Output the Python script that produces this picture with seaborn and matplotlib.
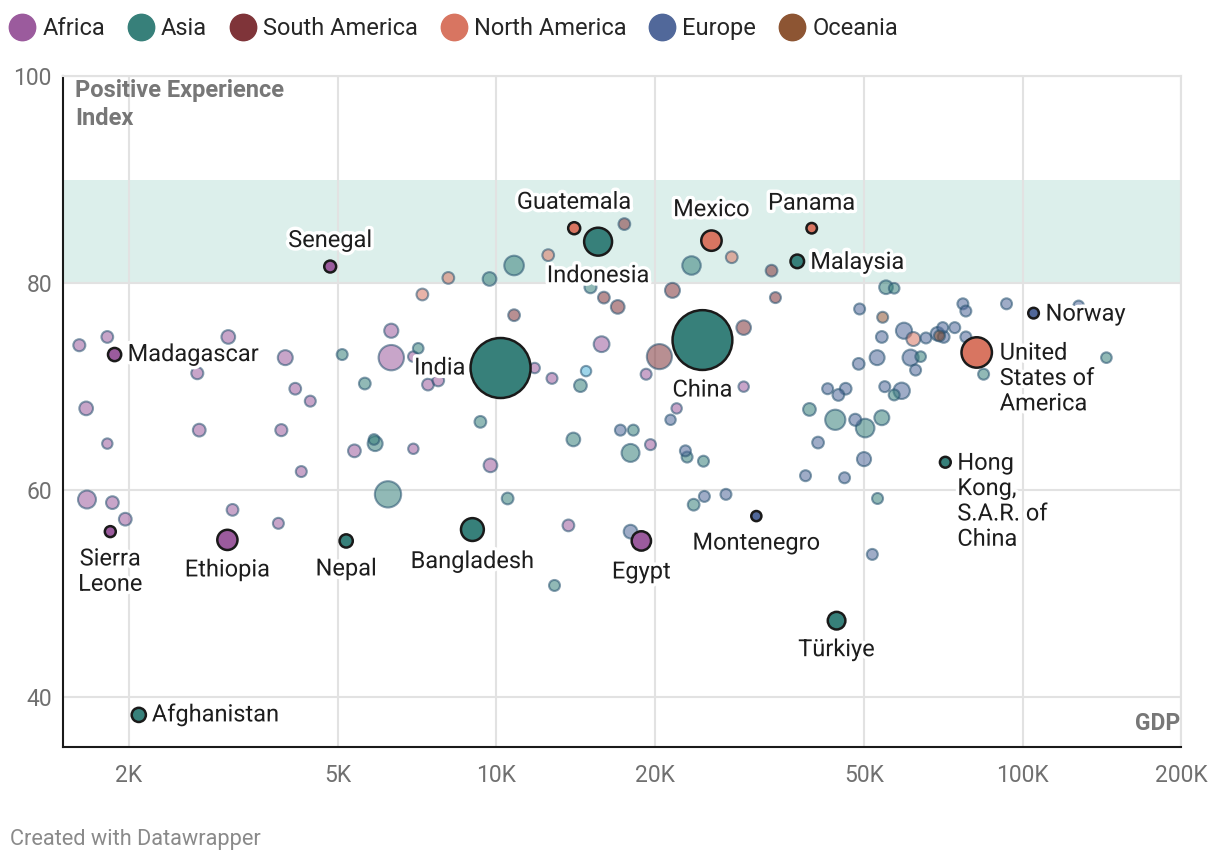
import pandas as pd
import seaborn as sns
import matplotlib.pyplot as plt
import matplotlib.patheffects as pe
from matplotlib.lines import Line2D
from matplotlib.ticker import NullLocator

# ------------------------------- colores -------------------------------- #
REGIONES = ["Africa", "Asia", "South America", "North America", "Europe", "Oceania"]
COLORES = {
    "Africa": "#9b5b9d",
    "Asia": "#37807a",
    "South America": "#7f3439",
    "North America": "#d87561",
    "Europe": "#51689a",
    "Oceania": "#8d5533",
    "Other": "#4fb3d9",
}

# --------------------------- paises destacados --------------------------- #
dest_nombre = ["Afghanistan", "Sierra\nLeone", "Madagascar", "Ethiopia", "Senegal", "Nepal",
               "Bangladesh", "India", "Guatemala", "Indonesia", "Egypt", "China", "Mexico",
               "Panama", "Malaysia", "Montenegro", "Türkiye", "Hong\nKong,\nS.A.R. of\nChina",
               "Norway", "United\nStates of\nAmerica"]
dest_region = ["Asia", "Africa", "Africa", "Africa", "Africa", "Asia", "Asia", "Asia",
               "North America", "Asia", "Africa", "Asia", "North America", "North America",
               "Asia", "Europe", "Asia", "Asia", "Europe", "North America"]
dest_gdp = [2090, 1845, 1880, 3080, 4830, 5180, 9000, 10180, 14050, 15600, 18850, 24630,
            25620, 39730, 37300, 31180, 44300, 71300, 104900, 81800]
dest_pei = [38.3, 56.0, 73.1, 55.2, 81.6, 55.1, 56.2, 71.8, 85.3, 84.0, 55.1, 74.5, 84.1,
            85.3, 82.1, 57.5, 47.4, 62.7, 77.1, 73.3]
dest_pop = [41, 8, 30, 125, 17, 30, 171, 1420, 18, 276, 111, 1410, 128, 4, 34, 1, 85, 7, 5, 335]

# posicion de cada etiqueta respecto del punto (dx, dy en pixeles, alineacion)
dest_offset = [(13, 0, "left"), (0, -40, "center"), (13, 0, "left"), (0, -30, "center"),
               (0, 26, "center"), (0, -28, "center"), (0, -32, "center"), (-35, 0, "right"),
               (0, 26, "center"), (0, -34, "center"), (0, -31, "center"), (0, -50, "center"),
               (0, 31, "center"), (0, 25, "center"), (13, -1, "left"), (0, -27, "center"),
               (0, -29, "center"), (12, -39, "left"), (12, -1, "left"), (23, -26, "left")]

# ----------------------------- resto de paises ---------------------------- #
africa_gdp = [1611, 1821, 3092, 2700, 3968, 6310, 6310, 6950, 7410, 7750, 4145, 4427, 1660,
              2723, 3900, 1821, 5370, 6950, 4256, 1666, 1862, 3150, 1970, 3850, 15840, 11820,
              12750, 19250, 29500, 22000, 19620, 9740, 13700]
africa_pei = [74.0, 74.8, 74.8, 71.3, 72.8, 75.4, 72.8, 72.9, 70.2, 70.6, 69.8, 68.6, 67.9,
              65.8, 65.8, 64.5, 63.8, 64.0, 61.8, 59.1, 58.8, 58.1, 57.2, 56.8, 74.1, 71.8,
              70.8, 71.2, 70.0, 67.9, 64.4, 62.4, 56.6]
africa_pop = [18, 15, 35, 18, 50, 40, 220, 5, 15, 15, 15, 8, 35, 25, 18, 3, 25, 3, 8, 90, 25,
              15, 25, 8, 60, 3, 8, 8, 3, 3, 8, 35, 15]

asia_gdp = [7100, 5090, 5620, 5880, 5850, 6220, 10800, 9700, 15090, 23480, 14440, 9320, 14000,
            18200, 17980, 23030, 24740, 10500, 23700, 12890, 39340, 44050, 50200, 54000, 53000,
            55000, 57000, 57000, 64000, 84300, 144300]
asia_pei = [73.7, 73.1, 70.3, 64.5, 64.9, 59.6, 81.7, 80.4, 79.6, 81.7, 70.1, 66.6, 64.9, 65.8,
            63.6, 63.2, 62.8, 59.2, 58.6, 50.8, 67.8, 66.8, 66.0, 67.0, 59.2, 79.6, 79.5, 69.2,
            72.9, 71.2, 72.8]
asia_pop = [5, 8, 15, 50, 5, 240, 115, 35, 18, 98, 25, 15, 35, 8, 90, 8, 8, 15, 15, 8, 25, 125,
            100, 50, 8, 35, 5, 8, 5, 8, 5]

europe_gdp = [21420, 17200, 22860, 24840, 27300, 17980, 40850, 48070, 49950, 38670, 45870,
              51800, 49000, 59500, 54000, 52900, 61250, 62600, 48800, 42600, 46100, 44650,
              54700, 58900, 77000, 78000, 93200, 65500, 68900, 70500, 70800, 74300, 78000,
              127800]
europe_pei = [66.8, 65.8, 63.8, 59.4, 59.6, 56.0, 64.6, 66.8, 63.0, 61.4, 61.2, 53.8, 77.5,
              75.4, 74.8, 72.8, 72.8, 71.6, 72.2, 69.8, 69.8, 69.2, 70.0, 69.6, 78.0, 77.3,
              78.0, 74.7, 75.1, 75.7, 74.8, 75.7, 74.8, 77.8]
europe_pop = [3, 8, 8, 8, 8, 35, 15, 18, 40, 8, 8, 8, 8, 65, 15, 50, 65, 8, 15, 8, 15, 15, 8,
              68, 8, 8, 8, 8, 35, 8, 15, 8, 8, 5]

namerica_gdp = [7230, 8100, 12540, 28000, 62000]
namerica_pei = [78.9, 80.5, 82.7, 82.5, 74.6]
namerica_pop = [15, 15, 15, 15, 38]

samerica_gdp = [17500, 33330, 16000, 17000, 10800, 21600, 33900, 29500, 20400]
samerica_pei = [85.7, 81.2, 78.6, 77.7, 76.9, 79.3, 78.6, 75.7, 72.9]
samerica_pop = [15, 15, 15, 35, 15, 50, 8, 45, 215]

oceania_gdp = [54200, 69500]
oceania_pei = [76.7, 74.9]
oceania_pop = [8, 8]

otros_gdp = [14800]
otros_pei = [71.5]
otros_pop = [3]

# ------------------------------ dataframes ------------------------------ #
partes = []
for region, g, p, n in [("Africa", africa_gdp, africa_pei, africa_pop),
                        ("Asia", asia_gdp, asia_pei, asia_pop),
                        ("Europe", europe_gdp, europe_pei, europe_pop),
                        ("North America", namerica_gdp, namerica_pei, namerica_pop),
                        ("South America", samerica_gdp, samerica_pei, samerica_pop),
                        ("Oceania", oceania_gdp, oceania_pei, oceania_pop),
                        ("Other", otros_gdp, otros_pei, otros_pop)]:
    partes.append(pd.DataFrame({"region": region, "gdp": g, "pei": p, "pop": n}))
df_fondo = pd.concat(partes).sort_values("pop", ascending=False)

df_dest = pd.DataFrame({"nombre": dest_nombre, "region": dest_region, "gdp": dest_gdp,
                        "pei": dest_pei, "pop": dest_pop})
df_dest_orden = df_dest.sort_values("pop", ascending=False)

# -------------------------------- grafico -------------------------------- #
sns.set_theme(style="white")
plt.rcParams["font.family"] = ["Roboto", "DejaVu Sans"]

fig = plt.figure(figsize=(12.2, 8.66), dpi=100)
ax = fig.add_axes([63 / 1220, 1 - 747 / 866, (1181 - 63) / 1220, (747 - 76) / 866])

ax.axhspan(80, 90, color="#dcefeb", lw=0, zorder=0)

TAMANIOS = (52, 1866)
NORMA = (0, 1420)
sns.scatterplot(data=df_fondo, x="gdp", y="pei", hue="region", size="pop", sizes=TAMANIOS,
                size_norm=NORMA, palette=COLORES, alpha=0.55, edgecolor="#24506e",
                linewidth=1.5, legend=False, ax=ax, zorder=3)
sns.scatterplot(data=df_dest_orden, x="gdp", y="pei", hue="region", size="pop", sizes=TAMANIOS,
                size_norm=NORMA, palette=COLORES, alpha=1, edgecolor="#1a1a1a",
                linewidth=1.8, legend=False, ax=ax, zorder=4)

ax.set_xscale("log")
ax.set_xlim(1500, 200000)
ax.set_ylim(35.2, 100)
ax.set_xticks([2000, 5000, 10000, 20000, 50000, 100000, 200000])
ax.set_xticklabels(["2K", "5K", "10K", "20K", "50K", "100K", "200K"])
ax.xaxis.set_minor_locator(NullLocator())
ax.set_yticks([40, 60, 80, 100])
ax.set_xlabel("")
ax.set_ylabel("")

ax.set_axisbelow(True)
ax.grid(True, color="#e2e2e2", lw=1.5)
for lado in ["top", "right"]:
    ax.spines[lado].set_color("#e2e2e2")
    ax.spines[lado].set_linewidth(1.5)
for lado in ["left", "bottom"]:
    ax.spines[lado].set_color("#1a1a1a")
    ax.spines[lado].set_linewidth(1.5)
ax.tick_params(axis="both", length=0, labelsize=16.5, labelcolor="#707070")
ax.tick_params(axis="y", pad=8)
ax.tick_params(axis="x", pad=12)

# etiquetas de paises
halo = [pe.withStroke(linewidth=5, foreground="white")]
for i, fila in df_dest.iterrows():
    dx, dy, ha = dest_offset[i]
    ax.annotate(fila["nombre"], (fila["gdp"], fila["pei"]), xytext=(dx, dy),
                textcoords="offset pixels", ha=ha, va="center", fontsize=17,
                color="#1d1d1d", linespacing=1.13, path_effects=halo, zorder=5)

# titulos de ejes
fig.text(75 / 1220, 1 - 79 / 866, "Positive Experience\nIndex", ha="left", va="top",
         fontsize=17, fontweight="bold", color="#777777", linespacing=1.3)
fig.text(1180 / 1220, 1 - 723 / 866, "GDP", ha="right", va="center",
         fontsize=16.5, fontweight="bold", color="#777777")

# leyenda
manijas = [Line2D([0], [0], marker="o", lw=0, markerfacecolor=COLORES[r],
                  markeredgecolor=COLORES[r], markersize=19) for r in REGIONES]
fig.legend(manijas, REGIONES, loc="upper left", bbox_to_anchor=(-0.007, 0.999), ncol=6,
           frameon=False, fontsize=17, handletextpad=0.25, columnspacing=0.92,
           handlelength=1.2, borderaxespad=0.3)

fig.text(10 / 1220, 1 - 840 / 866, "Created with Datawrapper", ha="left", va="center",
         fontsize=15.7, color="#8a8a8a")

fig.savefig("out.png", dpi=100)
